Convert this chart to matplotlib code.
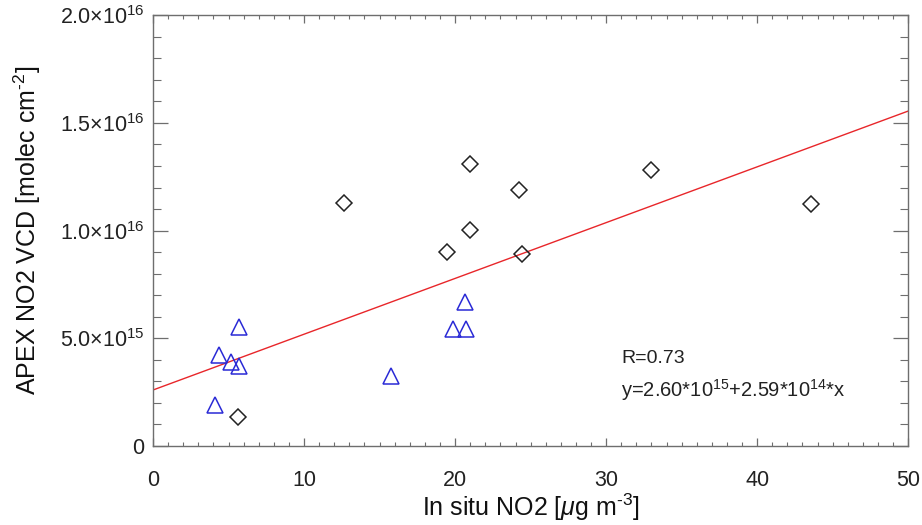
import matplotlib
matplotlib.use("Agg")
import matplotlib.pyplot as plt
from matplotlib.ticker import MultipleLocator, FixedLocator, FixedFormatter
import numpy as np

plt.rcParams['font.family'] = ['Liberation Sans', 'DejaVu Sans']
plt.rcParams['mathtext.fontset'] = 'custom'
plt.rcParams['mathtext.rm'] = 'Liberation Sans'
plt.rcParams['mathtext.it'] = 'Liberation Sans:italic'
plt.rcParams['mathtext.default'] = 'regular'

# In situ NO2 [ug m-3] vs APEX NO2 VCD [molec cm-2]
diamond_x = [12.65, 21.0, 24.25, 21.0, 19.45, 24.45, 33.0, 43.55, 5.6]
diamond_y = [11.28e15, 13.09e15, 11.88e15, 10.03e15, 9.0e15, 8.91e15, 12.8e15, 11.22e15, 1.35e15]

triangle_x = [5.68, 4.37, 5.17, 5.70, 4.10, 15.74, 20.66, 19.85, 20.70]
triangle_y = [5.52e15, 4.24e15, 3.88e15, 3.70e15, 1.92e15, 3.26e15, 6.70e15, 5.42e15, 5.42e15]

# Linear fit
intercept = 2.60e15
slope = 2.59e14
r_value = 0.73

y_ticks = [0, 5e15, 1e16, 1.5e16, 2e16]
y_ticklabels = ['0', r'5.0$\times$10$^{15}$', r'1.0$\times$10$^{16}$',
                r'1.5$\times$10$^{16}$', r'2.0$\times$10$^{16}$']
x_ticks = [0, 10, 20, 30, 40, 50]

fig = plt.figure(figsize=(9.22, 5.25), dpi=100)
ax = fig.add_axes([0.166, 0.1505, 0.819, 0.8205])

fit_x = np.array([0, 50])
ax.plot(fit_x, intercept + slope * fit_x, color='#e8262a', lw=1.0, zorder=2)

ax.plot(diamond_x, diamond_y, linestyle='none', marker='D', ms=8.2,
        mfc='none', mec='#222222', mew=1.1, zorder=3)
ax.plot(triangle_x, triangle_y, linestyle='none', marker='^', ms=12.2,
        mfc='none', mec='#2a2ad6', mew=1.1, zorder=3)

ax.set_xlim(0, 50)
ax.set_ylim(0, 2e16)

ax.xaxis.set_major_locator(FixedLocator(x_ticks))
ax.xaxis.set_minor_locator(MultipleLocator(1))
ax.yaxis.set_major_locator(FixedLocator(y_ticks))
ax.yaxis.set_major_formatter(FixedFormatter(y_ticklabels))
ax.yaxis.set_minor_locator(MultipleLocator(1e15))

for s in ax.spines.values():
    s.set_color('#6e6e6e')
    s.set_linewidth(1.0)

ax.tick_params(axis='both', which='both', direction='in', top=True, right=True,
               color='#6e6e6e', labelcolor='#222222')
ax.tick_params(axis='x', which='major', length=6, width=0.9, labelsize=15.5, pad=17)
ax.tick_params(axis='x', which='minor', length=3, width=0.8)
ax.tick_params(axis='y', which='major', length=10.8, width=0.9, labelsize=15.5, pad=6)
ax.tick_params(axis='y', which='minor', length=5.5, width=0.8)

ax.set_xlabel(r'In situ NO2 [$\mathit{\mu}$g m$^{\text{-3}}$]', fontsize=18, labelpad=1, color='#111111')
ax.set_ylabel(r'APEX NO2 VCD [molec cm$^{\text{-2}}$]', fontsize=18, labelpad=12, color='#111111')

ax.text(31.0, 3.85e15, 'R=%.2f' % r_value, fontsize=14, color='#222222', va='baseline')
ax.text(31.0, 2.3e15, r'y=2.60*10$^{15}$+2.59*10$^{14}$*x', fontsize=14.5,
        color='#222222', va='baseline')

fig.savefig('out.png', dpi=100)
